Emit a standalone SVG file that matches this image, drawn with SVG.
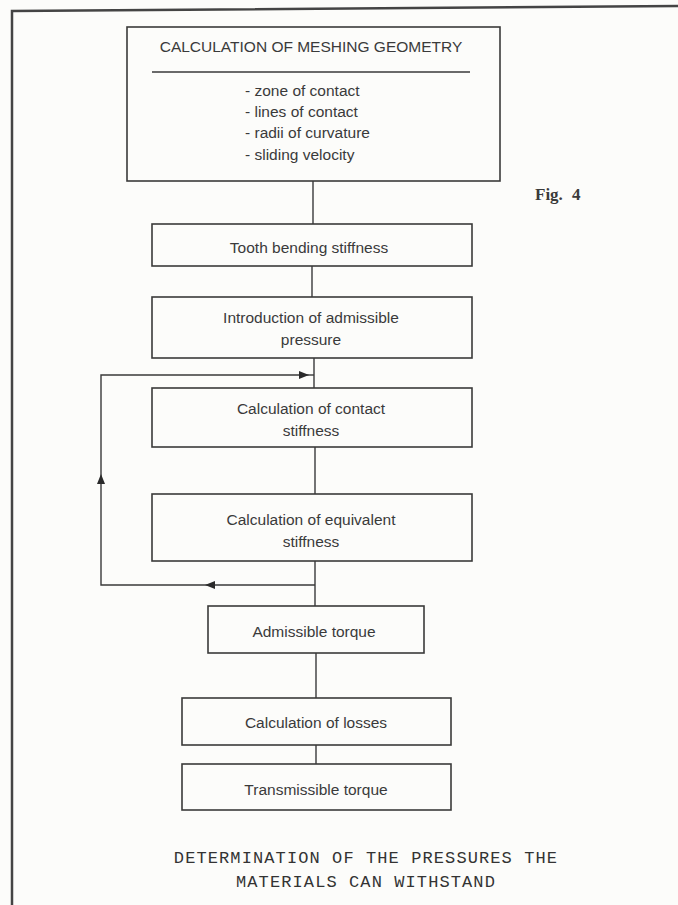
<svg xmlns="http://www.w3.org/2000/svg" width="678" height="905" viewBox="0 0 678 905">
<style>
.box{fill:none;stroke:#3a3a3a;stroke-width:1.6}
.t{font-family:"Liberation Sans",Arial,sans-serif;font-size:15.5px;fill:#3a3a3a;text-anchor:middle}
.b{font-family:"Liberation Sans",Arial,sans-serif;font-size:15.5px;fill:#3a3a3a}
.c{stroke:#3a3a3a;stroke-width:1.4;fill:none}
.cap{font-family:"Liberation Mono","Courier New",monospace;font-size:17px;fill:#333;text-anchor:middle;letter-spacing:1.1px}
</style>
<defs>
<marker id="ah" viewBox="0 0 10 8" refX="10" refY="4" markerWidth="10" markerHeight="8" markerUnits="userSpaceOnUse" orient="auto">
<path d="M0,0 L10,4 L0,8 z" fill="#2a2a2a"/>
</marker>
</defs>
<rect width="678" height="905" fill="#fcfcfa"/>
<g id="frame" stroke="#444" stroke-width="2.5" fill="none">
<path d="M12,905 V11 L678,6"/>
</g>
<g id="connectors">
<line class="c" x1="313" y1="181" x2="313" y2="224"/>
<line class="c" x1="312" y1="266" x2="312" y2="297"/>
<line class="c" x1="314" y1="358" x2="314" y2="388"/>
<line class="c" x1="315" y1="447" x2="315" y2="494"/>
<line class="c" x1="315" y1="561" x2="315" y2="606"/>
<line class="c" x1="316" y1="653" x2="316" y2="698"/>
<line class="c" x1="316" y1="745" x2="316" y2="764"/>
<path class="c" d="M315,585 H205" marker-end="url(#ah)"/>
<path class="c" d="M205,585 H101 V474" marker-end="url(#ah)"/>
<path class="c" d="M101,474 V375 H309" marker-end="url(#ah)"/>
<path class="c" d="M309,375 H314"/>
</g>
<g id="n1">
<rect class="box" x="127" y="27" width="373" height="154" stroke-width="2"/>
<line x1="152" y1="72" x2="470" y2="72" stroke="#3a3a3a" stroke-width="1.6"/>
<text class="t" x="311" y="52">CALCULATION OF MESHING GEOMETRY</text>
<text class="b" x="245" y="96">- zone of contact</text>
<text class="b" x="245" y="117">- lines of contact</text>
<text class="b" x="245" y="138">- radii of curvature</text>
<text class="b" x="245" y="160">- sliding velocity</text>
</g>
<g id="fig">
<text x="535" y="200" font-family="'Liberation Serif','Times New Roman',serif" font-weight="bold" font-size="17px" fill="#3a3a3a" word-spacing="5">Fig. 4</text>
</g>
<g id="n2">
<rect class="box" x="152" y="224" width="320" height="42"/>
<text class="t" x="309" y="253">Tooth bending stiffness</text>
</g>
<g id="n3">
<rect class="box" x="152" y="297" width="320" height="61"/>
<text class="t" x="311" y="323">Introduction of admissible</text>
<text class="t" x="311" y="345">pressure</text>
</g>
<g id="n4">
<rect class="box" x="152" y="388" width="320" height="59"/>
<text class="t" x="311" y="414">Calculation of contact</text>
<text class="t" x="311" y="436">stiffness</text>
</g>
<g id="n5">
<rect class="box" x="152" y="494" width="320" height="67"/>
<text class="t" x="311" y="525">Calculation of equivalent</text>
<text class="t" x="311" y="547">stiffness</text>
</g>
<g id="n6">
<rect class="box" x="208" y="606" width="216" height="47"/>
<text class="t" x="314" y="637">Admissible torque</text>
</g>
<g id="n7">
<rect class="box" x="182" y="698" width="269" height="47"/>
<text class="t" x="316" y="728">Calculation of losses</text>
</g>
<g id="n8">
<rect class="box" x="182" y="764" width="269" height="46"/>
<text class="t" x="316" y="795">Transmissible torque</text>
</g>
<g id="caption">
<text class="cap" x="366" y="863">DETERMINATION OF THE PRESSURES THE</text>
<text class="cap" x="366" y="887">MATERIALS CAN WITHSTAND</text>
</g>
</svg>
